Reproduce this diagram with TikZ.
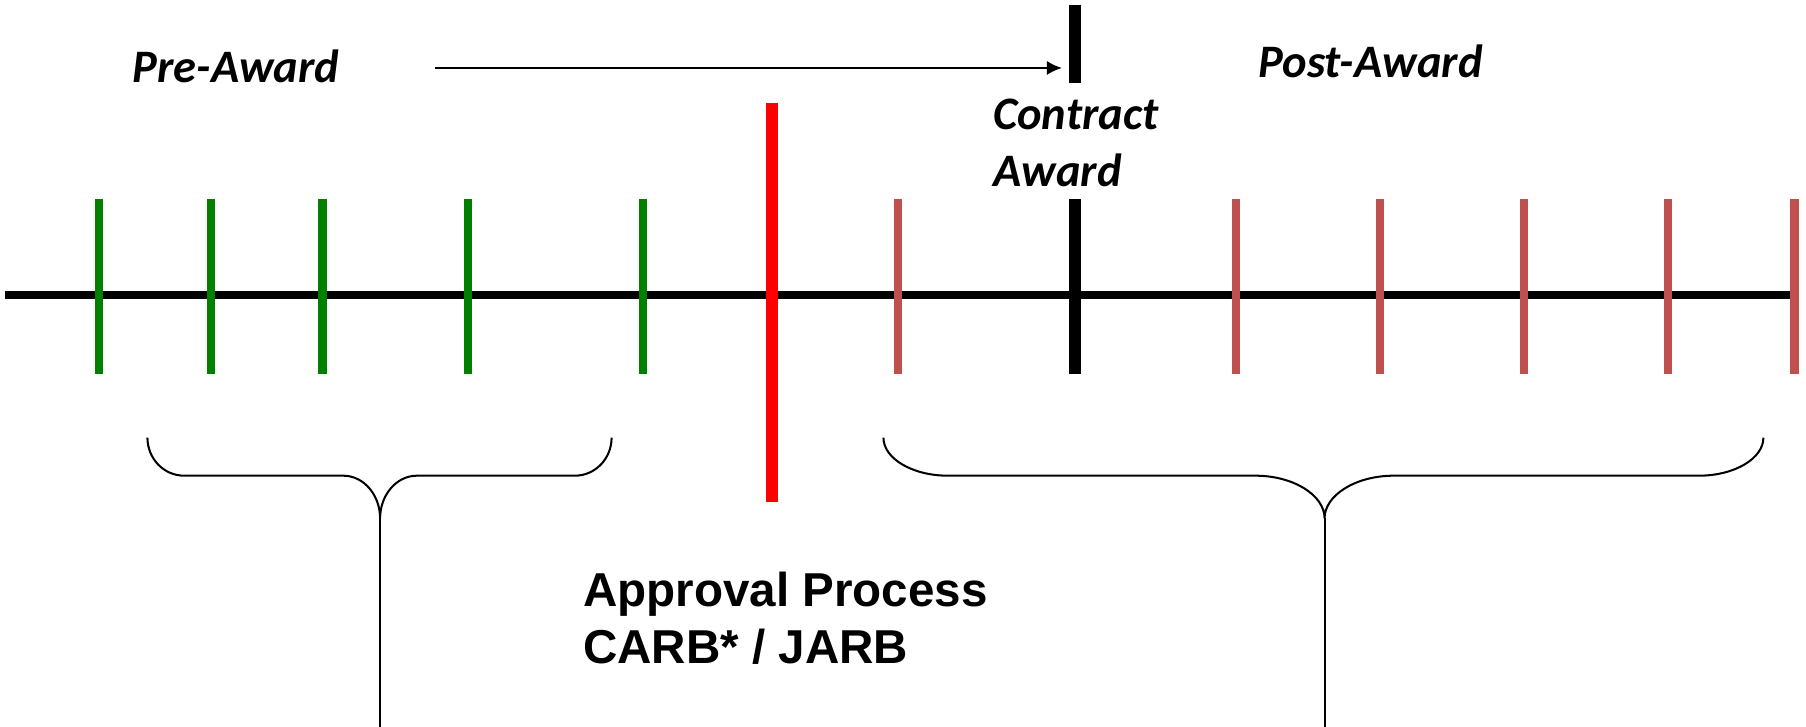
\documentclass[tikz,border=0pt]{standalone}
\usepackage{fontspec}
\setmainfont{Liberation Sans}
\newfontfamily\phasefont{Carlito}
\usetikzlibrary{arrows.meta}

\definecolor{pregreen}{RGB}{0,128,0}
\definecolor{postred}{RGB}{192,80,77}

\tikzset{
  phase/.style={inner sep=0pt, font=\phasefont\bfseries\itshape\fontsize{23}{28}\selectfont},
  board/.style={inner sep=0pt, align=left, font=\bfseries\fontsize{23.5}{28.5}\selectfont},
  tick/.style={line width=4pt},
  marker/.style={line width=5.9pt},
  brace/.style={line width=1pt},
}

\begin{document}
\begin{tikzpicture}[x=0.02cm, y=-0.02cm]
  \useasboundingbox (0,0) rectangle (1568,631);

  % time line
  \draw[line width=4pt] (4,256) -- (1558,256);

  % milestones before and after the award
  \foreach \x in {86,183,280,406,558}
    \draw[tick, pregreen] (\x,173) -- (\x,325);
  \foreach \x in {780,1073,1198,1323,1448,1558}
    \draw[tick, postred] (\x,173) -- (\x,325);

  % approval and award markers
  \draw[marker, red] (670,89) -- (670,436);
  \draw[marker] (933,173) -- (933,325);
  \draw[marker] (933,4) -- (933,72);
  \coordinate (awardtop) at (922,59);

  % labels
  \node[phase] (preaward) at (205,58) {Pre-Award};
  \node[phase] (postaward) at (1190,53) {Post-Award};
  \node[phase, align=left, anchor=north west] (award) at (862,86) {Contract\\Award};
  \node[board, anchor=north west] (approval) at (506,496) {Approval Process\\CARB* / JARB};

  \coordinate (arrowstart) at (378,59);
  \draw[line width=1.1pt, -{Latex[length=7.4pt,width=7pt]}] (arrowstart) -- (awardtop);

  % braces below the time line
  \coordinate (pretip) at (330,450);
  \coordinate (posttip) at (1150,450);
  \draw[brace] (128,380) .. controls (128,398) and (142,413) .. (160,413) -- (298,413)
    .. controls (316,413) and (330,430) .. (pretip)
    .. controls (330,430) and (344,413) .. (362,413) -- (499,413)
    .. controls (517,413) and (531,398) .. (531,380);
  \draw[brace] (767,380) .. controls (767,398) and (792,413) .. (823,413) -- (1090,413)
    .. controls (1123,413) and (1150,430) .. (posttip)
    .. controls (1150,430) and (1177,413) .. (1210,413) -- (1475,413)
    .. controls (1506,413) and (1531,398) .. (1531,380);
  \draw[brace] (pretip) -- (330,631);
  \draw[brace] (posttip) -- (1150,631);
\end{tikzpicture}
\end{document}
